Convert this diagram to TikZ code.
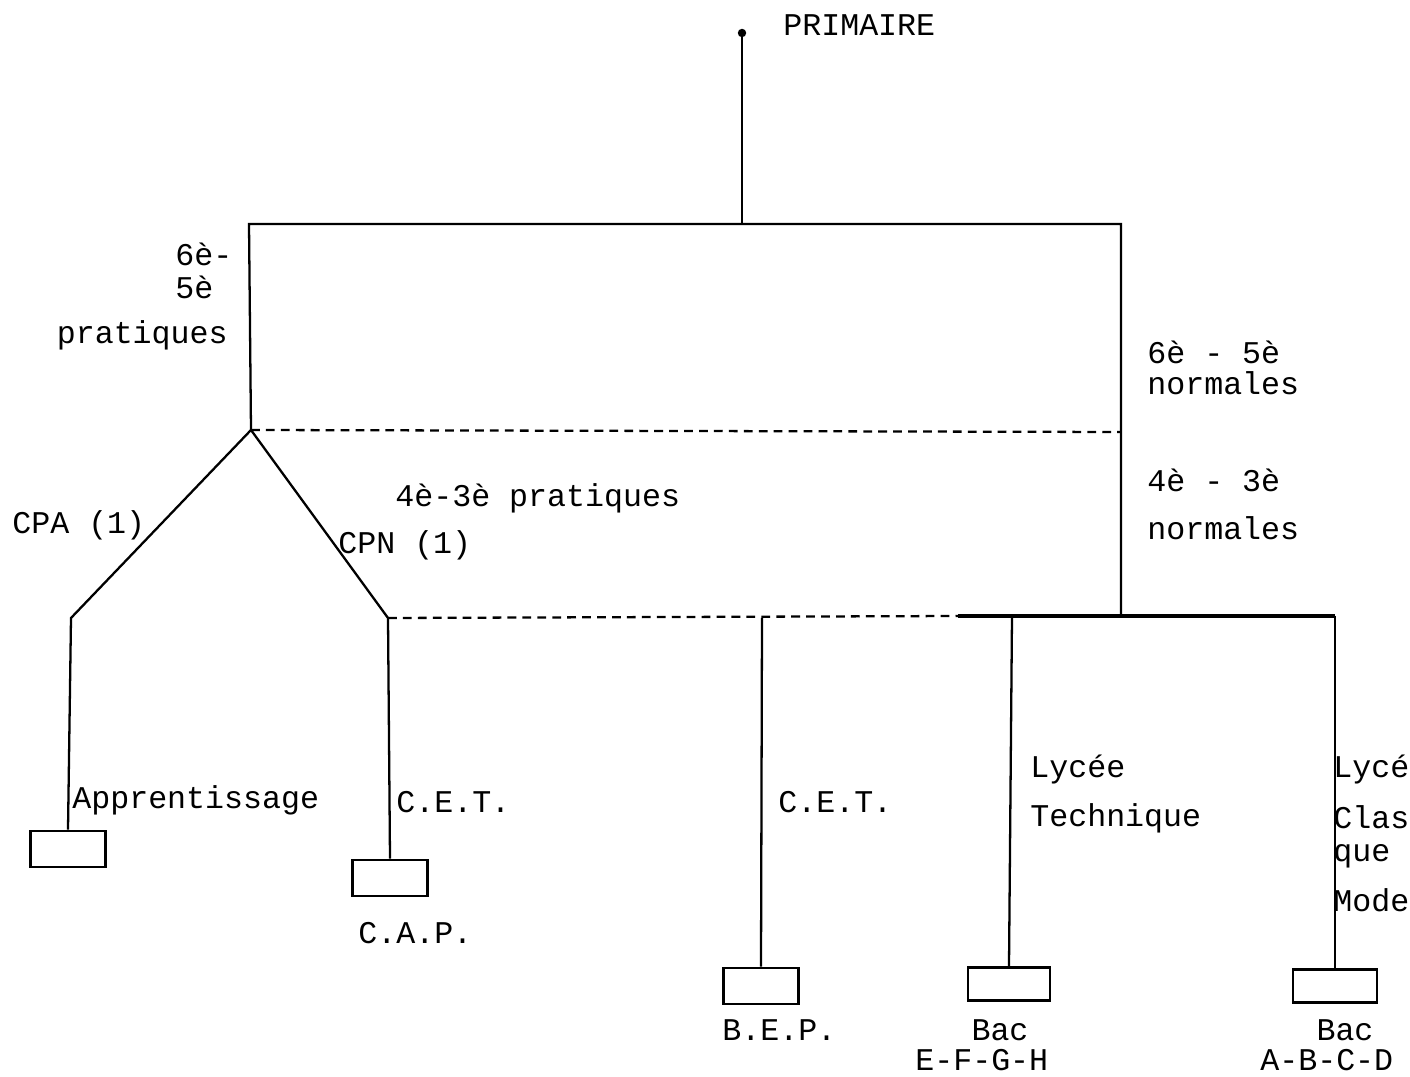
\documentclass[tikz,border=0pt]{standalone}
\usepackage{fontspec}
\setmainfont{Liberation Mono}
\usetikzlibrary{positioning}
\tikzset{
  branch/.style ={line width=1.3pt},
  bar/.style    ={line width=2.6pt},
  link/.style   ={line width=1.3pt, dash pattern=on 5pt off 3.5pt},
  exam/.style   ={draw, line width=1.6pt, minimum width=1.5cm,
                  minimum height=0.72cm, inner sep=0pt},
  lbl/.style    ={font=\fontsize{18}{22}\selectfont, inner sep=0pt},
  llbl/.style   ={lbl, anchor=west},
  rlbl/.style   ={lbl, anchor=east},
}

\begin{document}
\begin{tikzpicture}[x=0.02cm, y=-0.02cm]
  \useasboundingbox (0,0) rectangle (1410,1077);

  % junctions
  \coordinate (top)    at (742,33);
  \coordinate (topmid) at (742,224);
  \coordinate (nwc)    at (249,224);
  \coordinate (nec)    at (1121,224);
  \coordinate (fork)   at (251,430);
  \coordinate (east)   at (1121,432);
  \coordinate (cpa)    at (71,618);
  \coordinate (cpn)    at (388,618);
  \coordinate (hub)    at (1121,616);
  \coordinate (barw)   at (958,616);
  \coordinate (bare)   at (1335,616);
  \coordinate (cetr)   at (762,618);
  \coordinate (lyct)   at (1012,616);

  % exams
  \node[exam] (apprbox) at (68,849) {};
  \node[exam] (capbox)  at (390,878) {};
  \node[exam] (bepbox)  at (761,986) {};
  \node[exam, minimum width=1.64cm, minimum height=0.66cm] (bactbox) at (1009,984) {};
  \node[exam, minimum width=1.68cm, minimum height=0.66cm] (baccbox) at (1335,986) {};

  % tree
  \fill (top) circle (2.4pt);
  \draw[branch] (top) -- (topmid);
  \draw[branch] (fork) -- (nwc) -- (nec) -- (hub);
  \draw[link] (fork) -- (east);
  \draw[branch] (fork) -- (cpa) -- (apprbox.north);
  \draw[branch] (fork) -- (cpn) -- (capbox.north);
  \draw[link] (cpn) -- (barw);
  \draw[bar] (barw) -- (bare);
  \draw[branch] (cetr) -- (bepbox.north);
  \draw[branch] (lyct) -- (bactbox.north);
  \draw[branch] (bare) -- (baccbox.north);

  % labels
  \node[llbl] (primaire) at (783,25) {PRIMAIRE};
  \node[rlbl] (prat) at (228,335) {pratiques};
  \foreach [count=\i] \x/\y/\t in {%
      175/254/{6è-}, 175/287/{5è},
      1147/352/{6è - 5è}, 1147/383/{normales},
      1147/480/{4è - 3è}, 1147/528/{normales},
      395/498/{4è-3è pratiques},
      12/525/{CPA (1)}, 338/545/{CPN (1)},
      72/800/{Apprentissage}, 396/802/{C.E.T.}, 358/933/{C.A.P.},
      778/802/{C.E.T.},
      1030/770/{Lycée}, 1030/818/{Technique},
      1333/770/{Lycé}, 1333/817/{Clas}, 1333/856/{que}, 1333/900/{Mode},
      722/1030/{B.E.P.}, 915/1060/{E-F-G-H}, 1260/1060/{A-B-C-D}} {
    \node[llbl] (t\i) at (\x,\y) {\t};
  }
  \node[lbl] (bact) at (1000,1030) {Bac};
  \node[lbl] (bacc) at (1345,1030) {Bac};
\end{tikzpicture}
\end{document}
